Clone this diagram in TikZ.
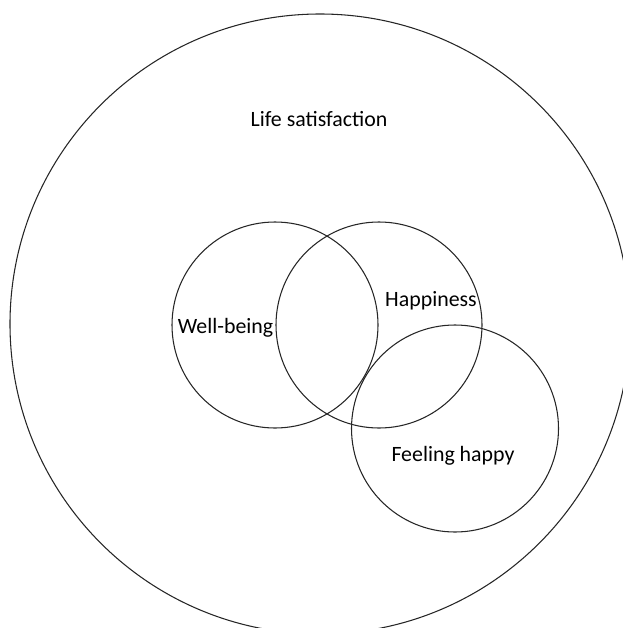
\documentclass[tikz,border=0pt]{standalone}
\usepackage{fontspec}
\setmainfont{Carlito}
\begin{document}
\begin{tikzpicture}[x=0.75pt,y=-0.75pt,
  ring/.style={draw=black!85,line width=0.8pt},
  lbl/.style={anchor=base,inner sep=0pt,font=\fontsize{16.4}{19}\selectfont,text=black}]
\useasboundingbox (0,0) rectangle (623,628);
\clip (0,0) rectangle (623,628);
\draw[ring] (320,324) circle[radius=310];
\draw[ring] (275,325) circle[radius=103];
\draw[ring] (379,325) circle[radius=103];
\draw[ring] (455,428.5) circle[radius=103.5];
\node[lbl] (life) at (319,126) {Life satisfaction};
\node[lbl] (well) at (225.5,333) {Well-being};
\node[lbl] (happ) at (431,306.5) {Happiness};
\node[lbl] (feel) at (453,461.5) {Feeling happy};
\end{tikzpicture}
\end{document}
